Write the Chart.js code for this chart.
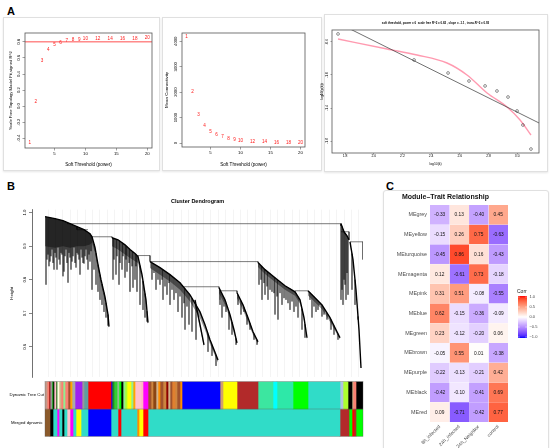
<!DOCTYPE html>
<html><head><meta charset="utf-8">
<script src="https://cdn.jsdelivr.net/npm/chart.js@4.4.1/dist/chart.umd.min.js"></script>
<style>
html,body{margin:0;padding:0;background:#fff;}
body{width:550px;height:448px;position:relative;overflow:hidden;font-family:"Liberation Sans",Arial,sans-serif;}
.box{position:absolute;}
.box canvas{display:block;}
.frame{position:absolute;border:1px solid #e0e0e0;box-shadow:0 1px 2px rgba(0,0,0,0.10);background:#fff;}
.lbl{position:absolute;font-weight:bold;font-size:11px;line-height:1;color:#000;}
</style></head><body>
<div class="frame" style="left:3px;top:17px;width:155px;height:152px"></div>
<div class="frame" style="left:162px;top:17px;width:158px;height:152px"></div>
<div class="frame" style="left:324px;top:14px;width:222px;height:156px"></div>
<div class="frame" style="left:383px;top:190px;width:164px;height:262px;border-radius:3px"></div>
<div class="lbl" style="left:7px;top:6px">A</div>
<div class="lbl" style="left:7px;top:181px">B</div>
<div class="lbl" style="left:386px;top:181px">C</div>

<div class="box" style="left:5px;top:20px"><canvas id="a1" width="152" height="150"></canvas></div>
<div class="box" style="left:162px;top:20px"><canvas id="a2" width="160" height="150"></canvas></div>
<div class="box" style="left:318px;top:14px"><canvas id="a3" width="228" height="158"></canvas></div>
<div class="box" style="left:0px;top:194px"><canvas id="dendro" width="365" height="186"></canvas></div>
<div class="box" style="left:0px;top:378px"><canvas id="colors" width="365" height="62"></canvas></div>
<div class="box" style="left:383px;top:190px"><canvas id="heat" width="165" height="258"></canvas></div>

<script>
// ---------------- DATA ----------------
// Panel A: soft-threshold analysis
const powers = [1,2,3,4,5,6,7,8,9,10,12,14,16,18,20];
const sftFit = [-0.46,0.06,0.57,0.70,0.77,0.79,0.82,0.83,0.83,0.84,0.84,0.84,0.84,0.84,0.85];
const meanK = [4160,2000,1100,680,450,320,240,170,130,100,60,35,25,15,10];
const cutR2 = 0.8;
const fitTicksY = [-0.4,-0.2,0.0,0.2,0.4,0.6,0.8];
const powerTicks = [5,10,15,20];
const kTicks = [0,1000,2000,3000,4000];
// scale-free fit (power = 6)
const logK  = [1.751,2.281,2.518,2.664,2.776,2.859,2.936,2.999,3.040,3.096];
const logPk = [-0.503,-0.818,-0.976,-1.073,-1.133,-1.194,-1.267,-1.436,-1.606,-1.897];
const fitIntercept = 1.1435, fitSlope = -0.8645;
const truncK  = [1.751,2.093,2.302,2.511,2.650,2.790,2.929,3.020,3.096];
const truncPk = [-0.564,-0.685,-0.758,-0.855,-1.000,-1.218,-1.388,-1.545,-1.727];
const logKTicks = [1.8,2.0,2.2,2.4,2.6,2.8,3.0];
const logPkTicks = [-1.8,-1.4,-1.0,-0.6];

// Panel B: dendrogram (x = gene order position, y = merge height)
// branches: [position, height, lower edge of dense leaf mass]
const branchA = [[0,.988,.90],[10,.982,.895],[18,.976,.90],[25,.967,.895],[32,.958,.90],[39,.949,.90],[45,.937,.905],[47,.928,.91],[50,.896,.88],[53,.845,.83],[56,.800,.785],[60,.749,.735],[63,.696,.682],[64,.660,.655]];
const leavesA = [[1,.785],[2,.86],[3,.875],[4,.84],[5,.854],[6,.87],[7,.890],[8,.85],[9,.830],[10,.88],[11,.866],[12,.83],[13,.896],[14,.86],[15,.845],[16,.88],[17,.875],[18,.81],[19,.824],[20,.87],[21,.890],[22,.85],[23,.791],[24,.88],[25,.866],[26,.83],[27,.854],[28,.87],[29,.896],[30,.85],[31,.836],[32,.88],[33,.875],[34,.86],[35,.815],[36,.89],[37,.866],[38,.85],[39,.848],[40,.87],[41,.890],[42,.86],[43,.830],[44,.875],[45,.854],[46,.885],[47,.770],[49,.830],[51,.785],[53,.764],[55,.740],[57,.725],[59,.704],[61,.687],[63,.663]];
const branchB = [[67,.925,.90],[73,.919,.89],[80,.904,.875],[85,.890,.865],[90,.878,.855],[93,.869,.85],[97,.815,.80],[101,.740,.725],[103,.672,.665]];
const leavesB = [[68,.800],[69,.86],[71,.815],[72,.87],[74,.785],[75,.85],[77,.830],[78,.87],[80,.806],[81,.86],[82,.824],[84,.85],[85,.764],[87,.84],[88,.776],[90,.800],[91,.84],[92,.764],[95,.725],[98,.710],[100,.687],[102,.675]];
const branchC = [[105,.854,.835],[115,.836,.815],[125,.815,.795],[135,.791,.77],[145,.755,.735],[155,.704,.685],[160,.666,.65],[165,.621,.608],[169,.591,.58],[173,.561,.553]];
const branchC2 = [[150,.740,.725],[153,.696,.683],[156,.651,.642],[159,.606,.60]];
const leavesC = [[107,.800],[109,.82],[111,.770],[113,.80],[115,.785],[117,.80],[118,.740],[120,.78],[122,.755],[124,.79],[125,.725],[127,.77],[129,.740],[131,.76],[133,.704],[135,.75],[137,.687],[139,.73],[140,.651],[142,.72],[144,.666],[147,.645],[151,.621],[163,.585],[167,.573],[171,.543]];
const branchD = [[174,.776,.76],[180,.740,.725],[185,.696,.682],[189,.651,.64],[192,.612,.605]];
const leavesD = [[175,.725],[177,.687],[179,.72],[181,.704],[184,.651],[187,.636],[191,.606]];
const branchE = [[192,.761,.745],[198,.725,.71],[203,.687,.673],[208,.645,.635],[213,.615,.608]];
const leavesE = [[193,.725],[196,.696],[199,.704],[202,.666],[205,.651],[209,.621],[212,.606]];
const branchF = [[213,.851,.838],[220,.830,.817],[230,.806,.793],[240,.782,.77],[250,.764,.752],[255,.740,.728],[259,.687,.677],[262,.627,.622]];
const leavesF = [[214,.785],[216,.80],[217,.740],[219,.79],[220,.755],[222,.78],[223,.740],[225,.77],[227,.764],[229,.76],[230,.696],[232,.75],[233,.681],[235,.76],[237,.725],[239,.745],[241,.740],[243,.73],[245,.710],[247,.735],[249,.704],[251,.72],[253,.687],[257,.651],[260,.627]];
const branchG = [[263,.767,.753],[270,.746,.733],[277,.725,.712],[285,.687,.675],[291,.651,.643],[295,.627,.622]];
const leavesG = [[265,.740],[267,.687],[269,.72],[271,.704],[273,.71],[275,.725],[277,.69],[279,.696],[282,.681],[286,.651],[289,.636],[293,.621]];
const branchH1 = [[296,.967,.962],[299,.943,.938],[302,.931,.927],[304,.919,.916]];
const leavesH1 = [[296,.740],[297,.770],[298,.725],[299,.80],[300,.785],[301,.740],[302,.82],[303,.755]];
const branchH2 = [[305,.913,.905],[308,.860,.852],[311,.770,.762],[314,.651,.646],[316,.537,.535]];
const leavesH2 = [[307,.770],[310,.725],[313,.681]];
// merges: [left pos, right pos, height, left child height, right child height]
const merges = [[22,296,.967,.967,.960],[32,43,.949,.958,.949],[47,67,.928,.928,.925],[93,105,.872,.869,.854],[105,213,.854,.854,.851],[138,174,.779,.779,.776],[175,192,.767,.740,.761],[250,263,.767,.764,.767],[296,304,.943,.943,.919],[305,318,.913,.913,.860]];
const heightTicks = [0.6,0.7,0.8,0.9,1.0];

// Module colour rows (breaks along gene order + module colour)
const dynamicBreaks = [0,2,4,5,7,8,9,11,12,14,16,18,20,23,25,27,30,37,39,43,66,67,69,72,74,76,78,80,82,86,88,90,96,98,103,106,108,111,113,115,118,121,123,125,127,130,132,135,137,175,178,192,213,228,232,248,263,295,298,303,307,308,311,318];
const dynamicModules = ['#c49a8a','#fa8072','#8b0000','#999999','#00a000','#000000','#ffc0cb','#006400','#ffffe0','#d2b48c','#fa8072','#90ee90','#fa8072','#a0522d','#ffa500','#a9a9a9','#a020f0','#999999','#5f9ea0','#ff0000','#0000ff','#228b22','#32cd32','#8fbc8f','#00ff00','#000000','#90ee90','#adff2f','#ffff00','#90ee90','#ffa500','#ffc0cb','#ffb6c1','#ff00ff','#a0522d','#cd853f','#8b4513','#d2b48c','#ff8c00','#a0522d','#cd853f','#8b0000','#d2b48c','#a0522d','#e08030','#cd853f','#a0522d','#ff8c00','#0000ff','#d2a06c','#ffff00','#b22a2a','#3ce6a0','#00ffff','#2ee8a8','#00ff00','#30dcc8','#b0c4de','#adff2f','#000000','#d2b48c','#fa8072','#000000'];
const mergedBreaks = [0,5,8,12,14,17,19,22,25,28,31,36,43,66,73,76,92,94,98,103,295,304,307,309,311,318];
const mergedModules = ['#8b5a2b','#000000','#30dcc8','#ff00ff','#30dcc8','#000000','#30dcc8','#ffc0cb','#ff00ff','#30dcc8','#ffff00','#30dcc8','#0000ff','#30dcc8','#ff0000','#30dcc8','#ff8c00','#ffff00','#ff0000','#30dcc8','#b22a2a','#00ff00','#ff0000','#b22a2a','#00ff00'];
const colorRowLabels = ['Dynamic Tree Cut','Merged dynamic'];

// Panel C: module-trait correlations
const modules = ['MEgrey','MEyellow','MEturquoise','MEmagenta','MEpink','MEblue','MEgreen','MEbrown','MEpurple','MEblack','MEred'];
const traits = ['8h_infected','24h_infected','24h_Neighbor','control'];
const corr8h   = [-0.33,-0.15,-0.45, 0.12, 0.31, 0.62, 0.23,-0.05,-0.22,-0.42, 0.09];
const corr24h  = [ 0.13, 0.26, 0.86,-0.61, 0.51,-0.15,-0.12, 0.55,-0.13,-0.10,-0.71];
const corr24hN = [-0.40, 0.75, 0.16, 0.73,-0.08,-0.36,-0.20, 0.01,-0.21,-0.41,-0.42];
const corrCtrl = [ 0.45,-0.63,-0.43,-0.18,-0.55,-0.09, 0.06,-0.38, 0.42, 0.69, 0.77];
const legendTicks = [1.0,0.5,0.0,-0.5,-1.0];

// ---------------- HELPERS ----------------
const FONT = '"Liberation Sans", Arial, Helvetica, sans-serif';
Chart.defaults.font.family = FONT;
Chart.defaults.color = '#000';
Chart.defaults.animation = false;

const pointText = {id:'pointText', afterDatasetsDraw(chart,args,o){
  if(!o || !o.labels) return;
  const meta = chart.getDatasetMeta(0), ctx = chart.ctx;
  ctx.save(); ctx.fillStyle=o.color; ctx.font=o.size+'px '+FONT; ctx.textAlign='center'; ctx.textBaseline='middle';
  meta.data.forEach((el,i)=>ctx.fillText(String(o.labels[i]), el.x, el.y));
  ctx.restore();
}};
const frame = {id:'frame', afterDraw(chart,args,o){
  if(!o || !o.color) return;
  const a=chart.chartArea, ctx=chart.ctx; ctx.save(); ctx.strokeStyle=o.color; ctx.lineWidth=o.width||0.8;
  ctx.strokeRect(a.left, a.top, a.right-a.left, a.bottom-a.top); ctx.restore();
}};
const rotY = {id:'rotY', afterDraw(chart,args,o){
  if(!o || !o.ticks) return;
  const s=chart.scales.y, ctx=chart.ctx;
  ctx.save(); ctx.font=o.size+'px '+FONT; ctx.fillStyle=o.color||'#000'; ctx.textAlign='center'; ctx.textBaseline='middle';
  o.ticks.forEach(v=>{ const y=s.getPixelForValue(v); ctx.save(); ctx.translate(chart.chartArea.left-o.offset, y); ctx.rotate(-Math.PI/2);
    ctx.fillText(o.fmt?o.fmt(v):String(v),0,0); ctx.restore(); });
  ctx.restore();
}};
const fix = (w,h)=>(s)=>{ if(w!==null) s.width=w; if(h!==null) s.height=h; };
const setTicks = arr => s => { s.ticks = arr.map(v=>({value:v})); };
const tickGrid = {drawOnChartArea:false, tickLength:2.5, color:'#444', lineWidth:0.5};
const f1 = v => v.toFixed(1);

// ---------------- A1 ----------------
new Chart(document.getElementById('a1'), {
  type:'scatter',
  data:{datasets:[
    {data: powers.map((p,i)=>({x:p,y:sftFit[i]})), pointRadius:0},
    {data:[{x:0,y:cutR2},{x:21,y:cutR2}], showLine:true, borderColor:'#ff0000', borderWidth:0.7, pointRadius:0}
  ]},
  options:{responsive:false, events:[],
    layout:{padding:{top:13,right:5,left:0,bottom:0}},
    plugins:{legend:{display:false}, tooltip:{enabled:false},
      pointText:{labels:powers, color:'#ff1a1a', size:4.6},
      rotY:{ticks:fitTicksY, offset:6, size:4.2, fmt:f1}, frame:{color:'#555'}},
    scales:{
      x:{type:'linear', min:0.24, max:20.76, afterBuildTicks:setTicks(powerTicks), afterFit:fix(null,22),
         ticks:{font:{size:4.3}, padding:1}, grid:tickGrid, border:{display:false},
         title:{display:true, text:'Soft Threshold (power)', font:{size:4.6}, padding:{top:0,bottom:3}}},
      y:{min:-0.52, max:0.91, afterBuildTicks:setTicks(fitTicksY), afterFit:fix(20,null),
         ticks:{display:false}, grid:tickGrid, border:{display:false},
         title:{display:true, text:'Scale Free Topology Model Fit,signed R^2', font:{size:4.2}, padding:{top:3,bottom:0}}}
    }},
  plugins:[pointText, rotY, frame]
});

// ---------------- A2 ----------------
new Chart(document.getElementById('a2'), {
  type:'scatter',
  data:{datasets:[{data: powers.map((p,i)=>({x:p,y:meanK[i]})), pointRadius:0}]},
  options:{responsive:false, events:[],
    layout:{padding:{top:13,right:17,left:0,bottom:0}},
    plugins:{legend:{display:false}, tooltip:{enabled:false},
      pointText:{labels:powers, color:'#ff1a1a', size:4.6},
      rotY:{ticks:kTicks, offset:6, size:4.2}, frame:{color:'#555'}},
    scales:{
      x:{type:'linear', min:0.24, max:20.76, afterBuildTicks:setTicks(powerTicks), afterFit:fix(null,23),
         ticks:{font:{size:4.3}, padding:1}, grid:tickGrid, border:{display:false},
         title:{display:true, text:'Soft Threshold (power)', font:{size:4.6}, padding:{top:0,bottom:3}}},
      y:{min:-156, max:4326, afterBuildTicks:setTicks(kTicks), afterFit:fix(20,null),
         ticks:{display:false}, grid:tickGrid, border:{display:false},
         title:{display:true, text:'Mean Connectivity', font:{size:4.4}, padding:{top:2,bottom:0}}}
    }},
  plugins:[pointText, rotY, frame]
});

// ---------------- A3 ----------------
new Chart(document.getElementById('a3'), {
  type:'scatter',
  data:{datasets:[
    {data: logK.map((k,i)=>({x:k,y:logPk[i]})), pointRadius:1.4, pointBackgroundColor:'rgba(0,0,0,0)', pointBorderColor:'#222', pointBorderWidth:0.5},
    {data:[1.70,3.16].map(x=>({x:x,y:fitIntercept+fitSlope*x})), showLine:true, borderColor:'#333', borderWidth:0.7, pointRadius:0},
    {data: truncK.map((k,i)=>({x:k,y:truncPk[i]})), showLine:true, tension:0.4, cubicInterpolationMode:'monotone', borderColor:'rgba(255,120,150,0.75)', borderWidth:1.4, pointRadius:0}
  ]},
  options:{responsive:false, events:[],
    layout:{padding:{top:0,right:7,left:0,bottom:0}},
    plugins:{legend:{display:false}, tooltip:{enabled:false},
      title:{display:true, fullSize:false, text:'soft threshold, power = 6  scale free R^2 = 0.82 , slope = -1.1 , trunc.R^2 = 0.93', font:{size:2.9, weight:'bold'}, padding:{top:7.5,bottom:5}},
      rotY:{ticks:logPkTicks, offset:5, size:3.4, fmt:f1}, frame:{color:'#555'}},
    scales:{
      x:{type:'linear', min:1.709, max:3.152, afterBuildTicks:setTicks(logKTicks), afterFit:fix(null,19),
         ticks:{font:{size:3.4}, padding:0, callback:v=>v.toFixed(1)}, grid:Object.assign({},tickGrid,{tickLength:1.5}), border:{display:false},
         title:{display:true, text:'log10(k)', font:{size:3.4}, padding:{top:0,bottom:6}}},
      y:{min:-1.945, max:-0.455, afterBuildTicks:setTicks(logPkTicks), afterFit:fix(14,null),
         ticks:{display:false}, grid:Object.assign({},tickGrid,{tickLength:1.5}), border:{display:false},
         title:{display:true, text:'log10(p(k))', font:{size:3.4}, padding:{top:2,bottom:0}}}
    }},
  plugins:[rotY, frame]
});

// ---------------- B: dendrogram ----------------
function heightAt(br, x){
  if(x<=br[0][0]) return br[0][1];
  for(let i=1;i<br.length;i++){ if(x<=br[i][0]){ const a=br[i-1], b=br[i]; return a[1]+(b[1]-a[1])*(x-a[0])/(b[0]-a[0]); } }
  return br[br.length-1][1];
}
const clusters = [[branchA,leavesA],[branchB,leavesB],[branchC,leavesC],[branchC2,[]],[branchD,leavesD],[branchE,leavesE],[branchF,leavesF],[branchG,leavesG],[branchH1,leavesH1],[branchH2,leavesH2]];
const dDatasets = [];
clusters.forEach(([br])=>{
  const poly = br.map(p=>({x:p[0],y:p[1]})).concat(br.slice().reverse().map(p=>({x:p[0],y:p[2]})));
  dDatasets.push({data:poly, showLine:true, fill:'shape', backgroundColor:'rgba(0,0,0,0.42)', borderWidth:0, pointRadius:0});
});
const leafPts = [];
clusters.forEach(([br,lv])=>{ lv.forEach(([x,b])=>{ leafPts.push({x:x,y:heightAt(br,x)},{x:x,y:b},{x:x,y:null}); }); });
dDatasets.push({data:leafPts, showLine:true, spanGaps:false, borderColor:'rgba(0,0,0,0.85)', borderWidth:0.5, pointRadius:0});
clusters.forEach(([br])=>{
  dDatasets.push({data:br.map(p=>({x:p[0],y:p[1]})), showLine:true, borderColor:'#000', borderWidth:1.4, pointRadius:0});
});
const mergePts = [];
merges.forEach(([x1,x2,h,hl,hr])=>{ mergePts.push({x:x1,y:hl},{x:x1,y:h},{x:x2,y:h},{x:x2,y:hr},{x:x2,y:null}); });
dDatasets.push({data:mergePts, showLine:true, spanGaps:false, borderColor:'#222', borderWidth:0.6, pointRadius:0});

new Chart(document.getElementById('dendro'), {
  type:'scatter',
  data:{datasets:dDatasets},
  options:{responsive:false, events:[],
    layout:{padding:{top:0,right:2,left:0,bottom:0}},
    plugins:{legend:{display:false}, tooltip:{enabled:false},
      title:{display:true, fullSize:false, text:'Cluster Dendrogram', font:{size:5.5, weight:'bold'}, padding:{top:4,bottom:5}},
      rotY:{ticks:heightTicks, offset:7, size:4.2, fmt:f1}},
    scales:{
      x:{type:'linear', min:-13, max:318, afterFit:fix(null,3),
         afterBuildTicks:s=>{ const t=[]; for(let v=3;v<318;v+=7.4) t.push({value:v}); s.ticks=t; },
         ticks:{display:false}, grid:{color:'#e8e8e8', lineWidth:0.5, drawTicks:false}, border:{display:false}},
      y:{min:0.51, max:1.009, afterBuildTicks:setTicks(heightTicks), afterFit:fix(32,null),
         ticks:{display:false}, grid:{drawOnChartArea:false, tickLength:3, color:'#333', lineWidth:0.6},
         border:{display:true, color:'#333', width:0.7},
         title:{display:true, text:'Height', font:{size:4.4}, padding:{top:9,bottom:0}}}
    }},
  plugins:[rotY]
});

// ---------------- B: module colours ----------------
const cDatasets = [];
dynamicModules.forEach((c,i)=>cDatasets.push({data:[[dynamicBreaks[i],dynamicBreaks[i+1]],null], backgroundColor:c}));
mergedModules.forEach((c,i)=>cDatasets.push({data:[null,[mergedBreaks[i],mergedBreaks[i+1]]], backgroundColor:c}));
cDatasets.forEach(d=>Object.assign(d,{barPercentage:1, categoryPercentage:1, grouped:false, borderWidth:0}));
const rowSep = {id:'rowSep', afterDatasetsDraw(chart){
  const a=chart.chartArea, ctx=chart.ctx; ctx.save(); ctx.strokeStyle='rgba(90,90,90,0.6)'; ctx.lineWidth=0.6;
  ctx.strokeRect(a.left, a.top, a.right-a.left, a.bottom-a.top);
  const ym=(a.top+a.bottom)/2; ctx.beginPath(); ctx.moveTo(a.left,ym); ctx.lineTo(a.right,ym); ctx.stroke(); ctx.restore();
}};
new Chart(document.getElementById('colors'), {
  type:'bar',
  data:{labels:colorRowLabels, datasets:cDatasets},
  options:{indexAxis:'y', responsive:false, events:[],
    layout:{padding:{top:2,right:2,left:0,bottom:3}},
    plugins:{legend:{display:false}, tooltip:{enabled:false}},
    scales:{
      x:{type:'linear', min:0, max:318, display:false},
      y:{type:'category', afterFit:fix(45,null), ticks:{font:{size:4.3}, crossAlign:'center', padding:1},
         grid:{display:false, drawTicks:false}, border:{display:false}}
    }},
  plugins:[rowSep]
});

// ---------------- C: module-trait heatmap ----------------
function s2l(c){c/=255;return c<=0.04045?c/12.92:Math.pow((c+0.055)/1.055,2.4);}
function l2s(v){v=Math.max(0,Math.min(1,v));return Math.round(255*(v<=0.0031308?12.92*v:1.055*Math.pow(v,1/2.4)-0.055));}
function rgb2lab(c){const R=s2l(c[0]),G=s2l(c[1]),B=s2l(c[2]);
  const X=(0.4124*R+0.3576*G+0.1805*B)/0.95047, Y=0.2126*R+0.7152*G+0.0722*B, Z=(0.0193*R+0.1192*G+0.9505*B)/1.08883;
  const f=t=>t>0.008856?Math.cbrt(t):7.787*t+16/116; const fx=f(X),fy=f(Y),fz=f(Z);
  return [116*fy-16,500*(fx-fy),200*(fy-fz)];}
function lab2rgb(l){const fy=(l[0]+16)/116,fx=fy+l[1]/500,fz=fy-l[2]/200;
  const g=t=>{const t3=t*t*t;return t3>0.008856?t3:(t-16/116)/7.787;};
  const X=g(fx)*0.95047,Y=g(fy),Z=g(fz)*1.08883;
  return [l2s(3.2406*X-1.5372*Y-0.4986*Z), l2s(-0.9689*X+1.8758*Y+0.0415*Z), l2s(0.0557*X-0.2040*Y+1.0570*Z)];}
const LOW=rgb2lab([0,0,255]), MID=rgb2lab([255,255,255]), HIGH=rgb2lab([255,0,0]);
function corrColor(v){ const t=Math.min(1,Math.abs(v)), e=v<0?LOW:HIGH; const c=lab2rgb(MID.map((m,i)=>m+(e[i]-m)*t)); return 'rgb('+c.join(',')+')'; }

const corrCols = [corr8h, corr24h, corr24hN, corrCtrl];
const hDatasets = traits.map((t,j)=>({
  label:t, data: modules.map(()=>[j,j+1]), backgroundColor: corrCols[j].map(corrColor),
  borderWidth:0.3, borderColor:'rgba(255,255,255,0.7)', borderSkipped:false,
  barPercentage:1, categoryPercentage:1, grouped:false
}));
const cellText = {id:'cellText', afterDatasetsDraw(chart){
  const ctx=chart.ctx; ctx.save(); ctx.fillStyle='#111'; ctx.font='4.8px '+FONT; ctx.textAlign='center'; ctx.textBaseline='middle';
  corrCols.forEach((col,j)=>{ chart.getDatasetMeta(j).data.forEach((el,i)=>{ ctx.fillText(col[i].toFixed(2), (el.x+el.base)/2, el.y+0.3); }); });
  ctx.restore();
}};
const corrLegend = {id:'corrLegend', afterDraw(chart){
  const ctx=chart.ctx, x0=chart.chartArea.right+10, w=9, top=106, bot=148;
  ctx.save();
  const grad = ctx.createLinearGradient(0,top,0,bot);
  for(let k=0;k<=20;k++){ const v=1-k/10; grad.addColorStop(k/20, corrColor(v)); }
  ctx.fillStyle=grad; ctx.fillRect(x0,top,w,bot-top);
  ctx.font='5px '+FONT; ctx.fillStyle='#222'; ctx.textAlign='left'; ctx.textBaseline='alphabetic';
  ctx.fillText('Corr', x0-1, top-3);
  ctx.font='4px '+FONT; ctx.fillStyle='#444'; ctx.textBaseline='middle';
  legendTicks.forEach(v=>{ const y=top+1+(1-v)/2*(bot-top-2);
    ctx.strokeStyle='rgba(255,255,255,0.9)'; ctx.lineWidth=0.5;
    ctx.beginPath(); ctx.moveTo(x0,y); ctx.lineTo(x0+1.8,y); ctx.moveTo(x0+w-1.8,y); ctx.lineTo(x0+w,y); ctx.stroke();
    ctx.fillText(v.toFixed(1).replace('-','\u2212'), x0+w+2.5, y); });
  ctx.restore();
}};
new Chart(document.getElementById('heat'), {
  type:'bar',
  data:{labels:modules, datasets:hDatasets},
  options:{indexAxis:'y', responsive:false, events:[],
    layout:{padding:{top:0,right:40,left:0,bottom:0}},
    plugins:{legend:{display:false}, tooltip:{enabled:false},
      title:{display:true, text:'Module\u2013Trait Relationship', font:{size:7}, color:'#111', padding:{top:3,bottom:3.6}}},
    scales:{
      x:{type:'linear', min:0, max:4, afterBuildTicks:s=>{ s.ticks=traits.map((t,i)=>({value:i+0.5})); }, afterFit:fix(null,26),
         ticks:{callback:(v,i)=>traits[i], minRotation:45, maxRotation:45, font:{size:4.8}, color:'#4d4d4d', padding:2},
         grid:{display:false, drawTicks:false}, border:{display:false}},
      y:{type:'category', afterFit:fix(47,null), ticks:{font:{size:5.4}, color:'#4d4d4d', padding:3},
         grid:{display:false, drawTicks:false}, border:{display:false}}
    }},
  plugins:[cellText, corrLegend]
});
</script>
</body></html>
